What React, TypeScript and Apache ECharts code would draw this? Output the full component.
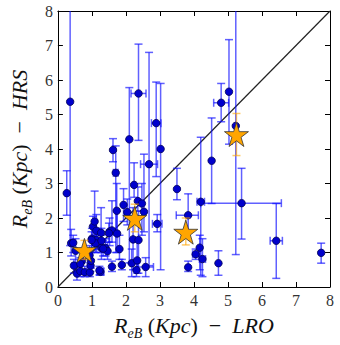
import React, { useEffect, useRef } from "react";
import * as echarts from "echarts";

// Blue galaxies: R_eB (LRO) vs R_eB (HRS)
const X = [0.26,0.36,0.39,0.45,0.52,0.47,0.56,0.66,0.70,0.79,0.94,0.96,0.97,0.93,1.00,1.03,1.08,1.13,1.14,1.10,1.27,1.28,1.28,1.40,1.46,1.52,1.59,1.74,1.81,1.59,1.25,1.88,1.62,1.70,1.73,1.93,2.10,2.24,2.04,2.35,2.47,2.53,2.37,2.68,2.89,3.02,2.92,2.21,2.37,2.17,2.33,2.31,2.58,3.50,3.83,3.83,4.20,4.52,4.80,5.03,5.23,5.40,6.42,7.74,4.17,4.05,4.25,4.72,1.50,0.99,1.33,0.66,1.22];
const Y = [2.72,5.37,1.27,1.28,1.05,0.62,0.39,0.46,0.75,0.43,0.42,0.62,0.76,0.92,1.40,1.75,1.90,1.63,1.36,1.27,1.57,1.34,1.13,1.13,1.04,1.61,1.64,1.55,1.10,0.59,0.44,0.64,3.97,3.31,2.21,2.38,4.28,2.96,2.17,2.49,2.42,2.18,5.61,3.56,4.75,4.00,1.83,1.38,1.36,0.69,0.77,0.49,0.58,2.84,2.08,0.57,2.47,3.66,5.34,5.66,4.67,2.43,1.34,0.99,1.14,0.95,0.81,0.69,1.56,1.36,1.11,0.67,0.48];
const XLO = [null,null,null,null,null,null,null,null,null,null,null,null,null,null,null,null,null,null,null,null,null,null,null,null,null,null,null,null,null,null,1.15,null,null,1.63,null,null,null,null,null,null,null,null,2.15,2.43,2.75,null,2.78,null,null,null,null,null,2.35,null,3.48,null,4.09,null,4.58,null,null,4.20,6.24,null,null,3.96,4.16,null,null,null,null,null,null];
const XHI = [null,null,null,null,null,null,null,null,null,null,null,null,null,null,null,null,null,null,null,null,null,null,null,null,null,null,null,null,null,null,1.35,null,null,1.77,null,null,null,null,null,null,null,null,2.59,2.93,3.03,null,3.06,null,null,null,null,null,2.81,null,4.13,null,4.31,null,5.02,null,null,6.57,6.60,null,null,4.14,4.34,null,null,null,null,null,null];
const YLO = [2.08,1.20,0.90,1.00,0.70,0.40,0.20,0.30,0.50,0.30,0.30,0.45,0.55,0.70,1.10,1.45,1.10,1.30,1.00,1.00,1.20,1.00,0.80,0.90,0.80,1.20,1.30,1.00,0.80,0.45,0.35,0.50,3.63,1.00,1.50,1.90,0.70,2.60,1.80,2.20,1.50,1.60,4.25,0.62,3.20,0.50,1.60,0.50,0.40,0.30,0.40,0.30,0.30,2.53,1.60,0.45,0.34,2.42,4.79,4.14,0.94,1.39,0.25,0.69,0.50,0.80,0.30,0.34,1.30,1.10,0.90,0.50,0.35];
const YHI = [3.37,8.50,1.67,1.50,1.40,0.80,0.60,0.70,1.00,0.60,0.55,0.80,1.00,1.20,1.70,2.05,2.78,2.10,1.70,1.50,2.30,1.70,1.50,1.40,1.30,2.00,2.50,2.20,1.50,0.75,0.55,0.80,4.30,4.09,3.00,2.85,5.78,3.60,2.55,2.90,3.00,3.85,7.04,6.80,5.94,5.90,2.10,2.30,2.20,1.10,1.30,0.70,0.85,3.44,2.70,0.75,4.34,4.90,5.90,7.17,8.50,3.44,2.42,1.27,1.50,1.10,1.40,1.05,1.85,1.60,1.35,0.85,0.60];

// Stars (averages)
const SX = [0.78, 2.26, 3.76, 5.25];
const SY = [1.06, 1.99, 1.59, 4.42];
const SYLO = [0.80, 1.60, 1.22, 3.81];
const SYHI = [1.35, 2.40, 2.00, 5.03];

const TICKS = [0, 1, 2, 3, 4, 5, 6, 7, 8];

const STAR = "path://M50,0 L61.2,34.5 L97.6,34.5 L68.2,55.9 L79.4,90.5 L50,69.1 L20.6,90.5 L31.8,55.9 L2.4,34.5 L38.8,34.5 Z";

function makeErrRender(color: string, width: number) {
  return (params: any, api: any) => {
    const x = api.value(0), y = api.value(1);
    const xlo = api.value(2), xhi = api.value(3);
    const ylo = api.value(4), yhi = api.value(5);
    const cap = 4;
    const children: any[] = [];
    const st = { stroke: color, lineWidth: width };
    const pB = api.coord([x, ylo]);
    const pT = api.coord([x, yhi]);
    children.push({ type: "line", shape: { x1: pB[0], y1: pB[1], x2: pT[0], y2: pT[1] }, style: st });
    children.push({ type: "line", shape: { x1: pB[0] - cap, y1: pB[1], x2: pB[0] + cap, y2: pB[1] }, style: st });
    children.push({ type: "line", shape: { x1: pT[0] - cap, y1: pT[1], x2: pT[0] + cap, y2: pT[1] }, style: st });
    if (xhi > xlo) {
      const pL = api.coord([xlo, y]);
      const pR = api.coord([xhi, y]);
      children.push({ type: "line", shape: { x1: pL[0], y1: pL[1], x2: pR[0], y2: pR[1] }, style: st });
      children.push({ type: "line", shape: { x1: pL[0], y1: pL[1] - cap, x2: pL[0], y2: pL[1] + cap }, style: st });
      children.push({ type: "line", shape: { x1: pR[0], y1: pR[1] - cap, x2: pR[0], y2: pR[1] + cap }, style: st });
    }
    return { type: "group", children };
  };
}

export default function App() {
  const ref = useRef<HTMLDivElement>(null);
  useEffect(() => {
    if (!ref.current) return;
    const chart = echarts.init(ref.current, null, { renderer: "svg" });
    const errData = X.map((x, i) => [x, Y[i], XLO[i] ?? x, XHI[i] ?? x, YLO[i], YHI[i]]);
    const starErr = SX.map((x, i) => [x, SY[i], x, x, SYLO[i], SYHI[i]]);
    const serif = "Liberation Serif";
    const tickLbl = { fontFamily: serif, fontSize: 16, color: "#333" };
    const axisCommon = {
      type: "value",
      min: 0,
      max: 8,
      interval: 1,
      splitLine: { show: false },
      axisLine: { show: true, onZero: false, lineStyle: { color: "#000", width: 1 } },
      axisTick: { show: true, inside: true, length: 5, lineStyle: { color: "#000" } },
    };
    const nameRich = {
      i: { fontFamily: serif, fontStyle: "italic", fontSize: 22, color: "#111", lineHeight: 26, verticalAlign: "bottom" },
      u: { fontFamily: serif, fontSize: 22, color: "#111", lineHeight: 26, verticalAlign: "bottom" },
      s: { fontFamily: serif, fontStyle: "italic", fontSize: 14, color: "#111", lineHeight: 26, verticalAlign: "bottom", padding: [0, 0, -4, 0] },
    };
    chart.setOption({
      animation: false,
      grid: { left: 41, right: 10, top: 11, bottom: 46, containLabel: false },
      xAxis: [
        {
          ...axisCommon,
          position: "bottom",
          axisLabel: { ...tickLbl, margin: 5, formatter: (v: number) => (TICKS.includes(v) ? String(v) : "") },
          name: "{i|R}{s|eB}{u| (}{i|Kpc}{u|)  −  }{i|LRO}",
          nameLocation: "middle",
          nameGap: 23,
          nameTextStyle: { rich: nameRich },
        },
        { ...axisCommon, position: "top", axisLabel: { show: false } },
      ],
      yAxis: [
        {
          ...axisCommon,
          position: "left",
          axisLabel: { ...tickLbl, margin: 5 },
          name: "{i|R}{s|eB}{u| (}{i|Kpc}{u|)  −  }{i|HRS}",
          nameLocation: "middle",
          nameGap: 17,
          nameRotate: 90,
          nameTextStyle: { rich: nameRich },
        },
        { ...axisCommon, position: "right", axisLabel: { show: false } },
      ],
      series: [
        {
          type: "line",
          data: [[0, 0], [8, 8]],
          symbol: "none",
          lineStyle: { color: "#222", width: 1.2 },
          z: 1,
          silent: true,
        },
        {
          type: "custom",
          data: errData,
          renderItem: makeErrRender("rgba(10,10,255,0.65)", 1.5),
          clip: true,
          z: 2,
          silent: true,
        },
        {
          type: "scatter",
          data: X.map((x, i) => [x, Y[i]]),
          symbol: "circle",
          symbolSize: 7.5,
          itemStyle: { color: "#0000cc", borderColor: "#000055", borderWidth: 0.8, opacity: 1 },
          z: 3,
        },
        {
          type: "custom",
          data: starErr,
          renderItem: makeErrRender("rgba(255,165,0,0.6)", 1.5),
          clip: true,
          z: 4,
          silent: true,
        },
        {
          type: "scatter",
          data: SX.map((x, i) => [x, SY[i]]),
          symbol: STAR,
          symbolSize: 24,
          itemStyle: { color: "#FFA500", borderColor: "#333", borderWidth: 0.8, opacity: 1 },
          z: 5,
        },
      ],
    });
    return () => chart.dispose();
  }, []);
  return <div ref={ref} style={{ position: "fixed", left: 0, top: 0, width: 340, height: 345, background: "#fff" }} />;
}
